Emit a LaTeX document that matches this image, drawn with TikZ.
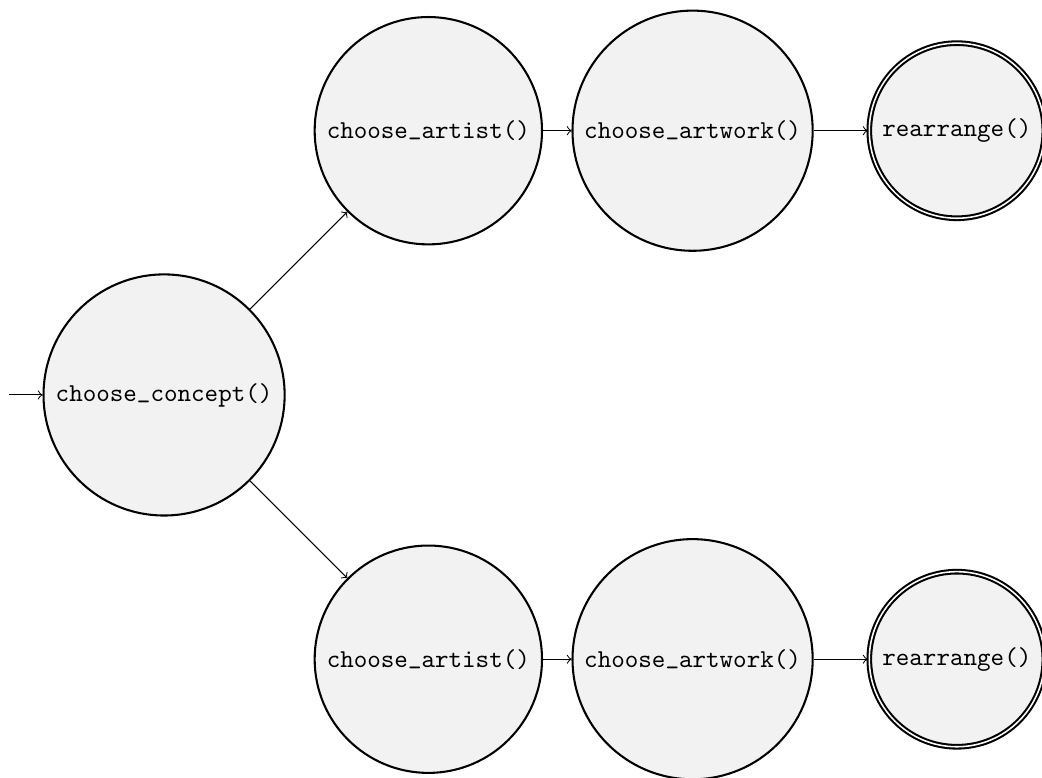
\documentclass[tikz,border=0pt]{standalone}
\usetikzlibrary{automata,positioning}
\newcommand{\usc}{\raisebox{1.1pt}{\_}}
\begin{document}
\begin{tikzpicture}[->,on grid,node distance=3.6cm,initial text={},
    every state/.style={thick,fill=gray!10,inner sep=4pt}]
  \useasboundingbox (-63.6pt,-148.1pt) rectangle (340.3pt,153.1pt);
  \node[state,initial] (concept) {\texttt{choose\usc concept()}};
  % upper branch
  \node[state] (artistA) [above right=3.6cm and 3.6cm of concept] {\texttt{choose\usc artist()}};
  \node[state] (artworkA) [right=of artistA] {\texttt{choose\usc artwork()}};
  \node[state,accepting] (rearrA) [right=of artworkA] {\texttt{rearrange()}};
  % lower branch
  \node[state] (artistB) [below right=3.6cm and 3.6cm of concept] {\texttt{choose\usc artist()}};
  \node[state] (artworkB) [right=of artistB] {\texttt{choose\usc artwork()}};
  \node[state,accepting] (rearrB) [right=of artworkB] {\texttt{rearrange()}};
  \path (concept) edge (artistA)
                  edge (artistB)
        (artistA) edge (artworkA)
        (artworkA) edge (rearrA)
        (artistB) edge (artworkB)
        (artworkB) edge (rearrB);
\end{tikzpicture}
\end{document}
